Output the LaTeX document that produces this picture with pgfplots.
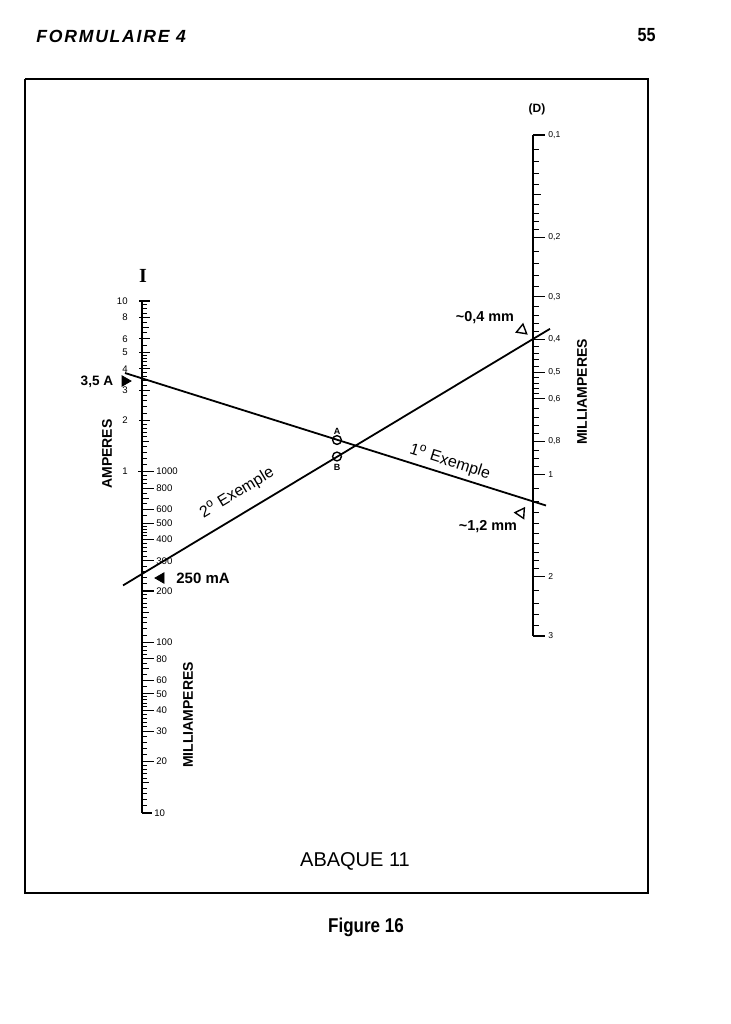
\documentclass[border=0pt]{standalone}
\usepackage{pgfplots}
\pgfplotsset{compat=1.18}
\usepackage{fontspec}
\setmainfont{Liberation Sans}
\newfontfamily\condfont[FakeStretch=0.85]{Liberation Sans}
\newfontfamily\spacedfont[LetterSpace=10]{Liberation Sans}
\newfontfamily\seriffont{Liberation Serif}
\newcommand\fs[1]{\fontsize{#1}{#1}\selectfont}
\begin{document}
\begin{tikzpicture}
% ---------- background in pixel units ----------
\begin{axis}[at={(0pt,0pt)}, anchor=south west, scale only axis, width=365pt, height=512pt,
  xmin=0, xmax=730, ymin=0, ymax=1024, y dir=reverse, hide axis, clip=false]
\fill[white] (axis cs:0,0) rectangle (axis cs:730,1024);
\addplot[black, line width=1.2pt, line join=miter] coordinates {(25,79) (648,79) (648,893) (25,893) (25,79)};
% examples
\addplot[black, line width=0.9pt] coordinates {(125,373) (546,505.5)};
\addplot[black, line width=0.9pt] coordinates {(123,585.4) (550,328.8)};
\addplot[only marks, mark=o, mark size=2.2pt, mark options={line width=0.7pt, draw=black}] coordinates {(337,440) (337,456.5)};
% pointers
\addplot[only marks, mark=triangle*, mark size=3pt, mark options={rotate=-90, fill=black, draw=black}] coordinates {(125,381)};
\addplot[only marks, mark=triangle*, mark size=3pt, mark options={rotate=90, fill=black, draw=black}] coordinates {(161,578)};
\addplot[only marks, mark=triangle, mark size=3pt, mark options={rotate=-129, line width=0.7pt, draw=black}] coordinates {(522,330)};
\addplot[only marks, mark=triangle, mark size=3pt, mark options={rotate=-34, line width=0.7pt, draw=black}] coordinates {(521,513)};
% texts
\node[font=\bfseries\fs{6.8}, inner sep=0pt] at (axis cs:97,382) {3,5 A};
\node[font=\bfseries\fs{7.5}, inner sep=0pt, anchor=west] at (axis cs:176,578) {250 mA};
\node[font=\bfseries\fs{7.2}, inner sep=0pt] at (axis cs:485,318) {\textasciitilde 0,4 mm};
\node[font=\bfseries\fs{7.2}, inner sep=0pt] at (axis cs:488,527) {\textasciitilde 1,2 mm};
\node[font=\fs{8}, inner sep=0pt, rotate=-17.5] at (axis cs:450,462) {1\textsuperscript{o} Exemple};
\node[font=\fs{8}, inner sep=0pt, rotate=31] at (axis cs:237,493) {2\textsuperscript{o} Exemple};
\node[font=\bfseries\fs{7}, inner sep=0pt, rotate=90] at (axis cs:107,454) {AMPERES};
\node[font=\bfseries\fs{7}, inner sep=0pt, rotate=90] at (axis cs:188,715) {MILLIAMPERES};
\node[font=\bfseries\fs{7}, inner sep=0pt, rotate=90] at (axis cs:582,392) {MILLIAMPERES};
\node[font=\seriffont\bfseries\fs{10}, inner sep=0pt] at (axis cs:143,276) {I};
\node[font=\bfseries\fs{6}, inner sep=0pt] at (axis cs:537,109) {(D)};
\node[font=\bfseries\fs{4.5}, inner sep=0pt] at (axis cs:337,431) {A};
\node[font=\bfseries\fs{4.5}, inner sep=0pt] at (axis cs:337,467) {B};
\node[font=\fs{10}, inner sep=0pt] at (axis cs:355,861) {ABAQUE 11};
\node[font=\condfont\bfseries\fs{10}, inner sep=0pt] at (axis cs:366,927) {Figure 16};
\node[font=\spacedfont\bfseries\itshape\fs{8.8}, inner sep=0pt, anchor=west] at (axis cs:36,36) {FORMULAIRE 4};
\node[font=\condfont\bfseries\fs{9.5}, inner sep=0pt, anchor=east] at (axis cs:656,35) {55};
\end{axis}
% ---------- left scale: I (A / mA) ----------
\begin{axis}[scale only axis, anchor=south west, width=20pt, xmin=0, xmax=40, ymode=log, hide axis, clip=false,
  at={(71pt,105.5pt)}, height=256pt, ymin=0.01, ymax=10]
\addplot[black, line width=1pt] coordinates {(0,0.01) (0,10)};
\addplot[black, line width=0.55pt, xcomb] coordinates {(8,10)(8,8)(8,6)(8,5)(8,4)(8,3)(8,2)(12,1)};
\addplot[black, line width=0.55pt, xcomb] coordinates {(-3,10)(-3,8)(-3,6)(-3,5)(-3,4)(-3,3)(-3,2)(-4,1)};
\addplot[black, line width=0.55pt, xcomb] coordinates {(12,0.8)(12,0.6)(12,0.5)(12,0.4)(12,0.3)(12,0.2)(12,0.1)(12,0.08)(12,0.06)(12,0.05)(12,0.04)(12,0.03)(12,0.02)(10,0.01)};
\addplot[black, line width=0.5pt, xcomb] coordinates {(7,1.5)(7,7)(7,0.15)(7,0.7)(7,0.015)(7,0.07)};
\addplot[black, line width=0.5pt, xcomb] coordinates {
(5,1.1)(5,1.2)(5,1.3)(5,1.4)(5,1.6)(5,1.7)(5,1.8)(5,1.9)(5,2.2)(5,2.4)(5,2.6)(5,2.8)(5,3.2)(5,3.4)(5,3.6)(5,3.8)(5,4.2)(5,4.4)(5,4.6)(5,4.8)(5,5.5)(5,6.5)(5,7.5)(5,8.5)(5,9)(5,9.5)
(5,0.11)(5,0.12)(5,0.13)(5,0.14)(5,0.16)(5,0.17)(5,0.18)(5,0.19)(5,0.22)(5,0.24)(5,0.26)(5,0.28)(5,0.32)(5,0.34)(5,0.36)(5,0.38)(5,0.42)(5,0.44)(5,0.46)(5,0.48)(5,0.55)(5,0.65)(5,0.75)(5,0.85)(5,0.9)(5,0.95)
(5,0.011)(5,0.012)(5,0.013)(5,0.014)(5,0.016)(5,0.017)(5,0.018)(5,0.019)(5,0.022)(5,0.024)(5,0.026)(5,0.028)(5,0.032)(5,0.034)(5,0.036)(5,0.038)(5,0.042)(5,0.044)(5,0.046)(5,0.048)(5,0.055)(5,0.065)(5,0.075)(5,0.085)(5,0.09)(5,0.095)};
% amp labels
\node[font=\fs{4.8}, inner sep=0pt, anchor=east] at (axis cs:-14,10) {10};
\node[font=\fs{4.8}, inner sep=0pt, anchor=east] at (axis cs:-14,8) {8};
\node[font=\fs{4.8}, inner sep=0pt, anchor=east] at (axis cs:-14,6) {6};
\node[font=\fs{4.8}, inner sep=0pt, anchor=east] at (axis cs:-14,5) {5};
\node[font=\fs{4.8}, inner sep=0pt, anchor=east] at (axis cs:-14,4) {4};
\node[font=\fs{4.8}, inner sep=0pt, anchor=east] at (axis cs:-14,3) {3};
\node[font=\fs{4.8}, inner sep=0pt, anchor=east] at (axis cs:-14,2) {2};
\node[font=\fs{4.8}, inner sep=0pt, anchor=east] at (axis cs:-14,1) {1};
% mA labels
\node[font=\fs{4.8}, inner sep=0pt, anchor=west] at (axis cs:14,1) {1000};
\node[font=\fs{4.8}, inner sep=0pt, anchor=west] at (axis cs:14,0.8) {800};
\node[font=\fs{4.8}, inner sep=0pt, anchor=west] at (axis cs:14,0.6) {600};
\node[font=\fs{4.8}, inner sep=0pt, anchor=west] at (axis cs:14,0.5) {500};
\node[font=\fs{4.8}, inner sep=0pt, anchor=west] at (axis cs:14,0.4) {400};
\node[font=\fs{4.8}, inner sep=0pt, anchor=west] at (axis cs:14,0.3) {300};
\node[font=\fs{4.8}, inner sep=0pt, anchor=west] at (axis cs:14,0.2) {200};
\node[font=\fs{4.8}, inner sep=0pt, anchor=west] at (axis cs:14,0.1) {100};
\node[font=\fs{4.8}, inner sep=0pt, anchor=west] at (axis cs:14,0.08) {80};
\node[font=\fs{4.8}, inner sep=0pt, anchor=west] at (axis cs:14,0.06) {60};
\node[font=\fs{4.8}, inner sep=0pt, anchor=west] at (axis cs:14,0.05) {50};
\node[font=\fs{4.8}, inner sep=0pt, anchor=west] at (axis cs:14,0.04) {40};
\node[font=\fs{4.8}, inner sep=0pt, anchor=west] at (axis cs:14,0.03) {30};
\node[font=\fs{4.8}, inner sep=0pt, anchor=west] at (axis cs:14,0.02) {20};
\node[font=\fs{4.8}, inner sep=0pt, anchor=west] at (axis cs:12,0.01) {10};
\end{axis}
% ---------- right scale: D (mm) ----------
\begin{axis}[scale only axis, anchor=south west, width=20pt, xmin=0, xmax=40, ymode=log, hide axis, clip=false,
  at={(266.5pt,194pt)}, height=250.5pt, ymin=0.1, ymax=3, y dir=reverse]
\addplot[black, line width=1pt] coordinates {(0,0.1) (0,3)};
\addplot[black, line width=0.55pt, xcomb] coordinates {(12,0.1)(12,0.2)(12,0.3)(12,0.4)(12,0.5)(12,0.6)(12,0.8)(12,1)(12,2)(12,3)};
\addplot[black, line width=0.5pt, xcomb] coordinates {(8,0.15)};
\addplot[black, line width=0.5pt, xcomb] coordinates {
(6,0.11)(6,0.12)(6,0.13)(6,0.14)(6,0.16)(6,0.17)(6,0.18)(6,0.19)(6,0.22)(6,0.24)(6,0.26)(6,0.28)(6,0.32)(6,0.34)(6,0.36)(6,0.38)(6,0.42)(6,0.44)(6,0.46)(6,0.48)(6,0.52)(6,0.54)(6,0.56)(6,0.58)(6,0.64)(6,0.68)(6,0.72)(6,0.76)(6,0.85)(6,0.9)(6,0.95)
(6,1.1)(6,1.2)(6,1.3)(6,1.4)(6,1.5)(6,1.6)(6,1.7)(6,1.8)(6,1.9)(6,2.2)(6,2.4)(6,2.6)(6,2.8)};
\node[font=\fs{4.3}, inner sep=0pt, anchor=west] at (axis cs:15,0.1) {0,1};
\node[font=\fs{4.3}, inner sep=0pt, anchor=west] at (axis cs:15,0.2) {0,2};
\node[font=\fs{4.3}, inner sep=0pt, anchor=west] at (axis cs:15,0.3) {0,3};
\node[font=\fs{4.3}, inner sep=0pt, anchor=west] at (axis cs:15,0.4) {0,4};
\node[font=\fs{4.3}, inner sep=0pt, anchor=west] at (axis cs:15,0.5) {0,5};
\node[font=\fs{4.3}, inner sep=0pt, anchor=west] at (axis cs:15,0.6) {0,6};
\node[font=\fs{4.3}, inner sep=0pt, anchor=west] at (axis cs:15,0.8) {0,8};
\node[font=\fs{4.3}, inner sep=0pt, anchor=west] at (axis cs:15,1) {1};
\node[font=\fs{4.3}, inner sep=0pt, anchor=west] at (axis cs:15,2) {2};
\node[font=\fs{4.3}, inner sep=0pt, anchor=west] at (axis cs:15,3) {3};
\end{axis}
\end{tikzpicture}
\end{document}
